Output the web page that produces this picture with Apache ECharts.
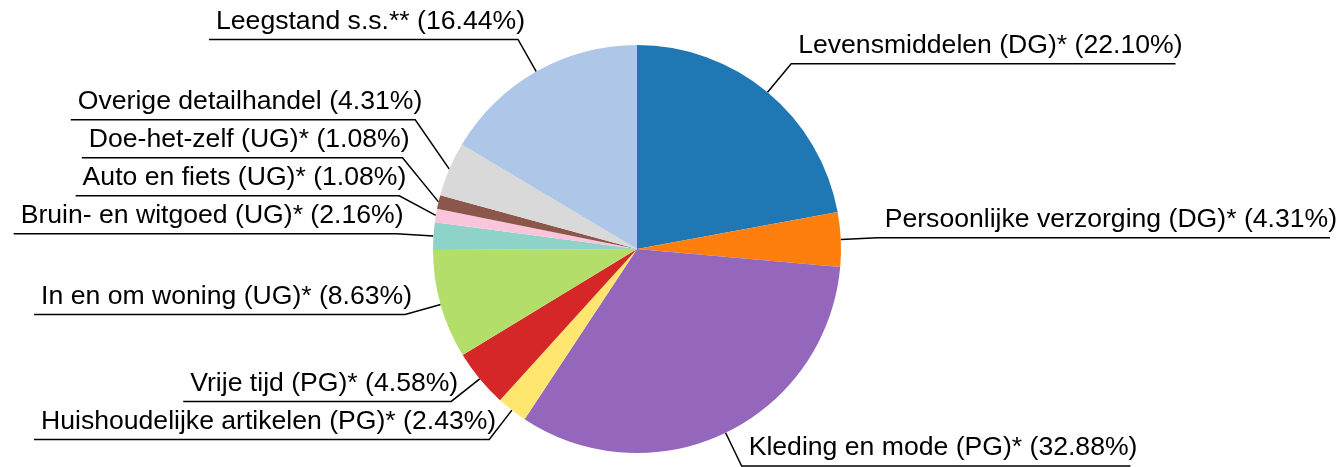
<!DOCTYPE html>
<html>
<head>
<meta charset="utf-8">
<script src="https://cdn.jsdelivr.net/npm/echarts@6/dist/echarts.min.js"></script>
<style>
  html, body { margin: 0; padding: 0; background: #fff; }
  #chart { width: 1343px; height: 467px; }
</style>
</head>
<body>
<div id="chart"></div>
<script>
// slices, clockwise from 12 o'clock
const names = [
  'Levensmiddelen (DG)*',
  'Persoonlijke verzorging (DG)*',
  'Kleding en mode (PG)*',
  'Huishoudelijke artikelen (PG)*',
  'Vrije tijd (PG)*',
  'In en om woning (UG)*',
  'Bruin- en witgoed (UG)*',
  'Auto en fiets (UG)*',
  'Doe-het-zelf (UG)*',
  'Overige detailhandel',
  'Leegstand s.s.**'
];
const shares = [22.10, 4.31, 32.88, 2.43, 4.58, 8.63, 2.16, 1.08, 1.08, 4.31, 16.44];
const colors = [
  '#1f77b4', '#ff7f0e', '#9467bd', '#ffe66f', '#d62728', '#b3de69',
  '#8dd3c7', '#f9c5dc', '#8c564b', '#d9d9d9', '#aec7e8'
];

const chart = echarts.init(document.getElementById('chart'));

// label stacking: labels on one side get pushed upwards (bottom first) when crowded
const rowGap = 38;
const natural = {};
let lifted = {};

function placeLabel(params) {
  const pts = params.labelLinePoints;
  if (!pts) return;
  const i = params.dataIndex;
  const isLeft = pts[1][0] < pts[0][0];
  natural[i] = { y: pts[1][1], left: isLeft };
  const elbowX = pts[1][0];
  const lineY = lifted[i] != null ? lifted[i] : pts[1][1];
  const w = params.labelRect.width;
  const farX = isLeft ? elbowX - w : elbowX + w;
  return {
    x: elbowX + 7,
    y: lineY - 18,
    labelLinePoints: [pts[0], [elbowX, lineY], [farX, lineY]]
  };
}

const option = {
  animation: false,
  series: [{
    type: 'pie',
    center: [637, 249],
    radius: 204,
    startAngle: 90,
    clockwise: true,
    avoidLabelOverlap: false,
    data: names.map((n, i) => ({ name: n, value: shares[i], itemStyle: { color: colors[i] } })),
    label: {
      formatter: (p) => p.name + ' (' + shares[p.dataIndex].toFixed(2) + '%)',
      fontFamily: 'Liberation Sans, Arial, sans-serif',
      fontSize: 26.6,
      lineHeight: 30,
      color: '#000',
      bleedMargin: 0,
      overflow: 'none'
    },
    labelLine: {
      show: true,
      length: 37,
      length2: 1,
      lineStyle: { color: '#000', width: 1.5 }
    },
    labelLayout: placeLabel,
    emphasis: { disabled: true }
  }]
};

chart.setOption(option);

['left', 'right'].forEach(side => {
  const ids = Object.keys(natural)
    .filter(k => natural[k].left === (side === 'left'))
    .sort((a, b) => natural[b].y - natural[a].y);
  let prev = Infinity;
  ids.forEach(k => {
    const y = Math.min(natural[k].y, prev - rowGap);
    lifted[k] = y;
    prev = y;
  });
});

chart.setOption(option, true);
</script>
</body>
</html>
